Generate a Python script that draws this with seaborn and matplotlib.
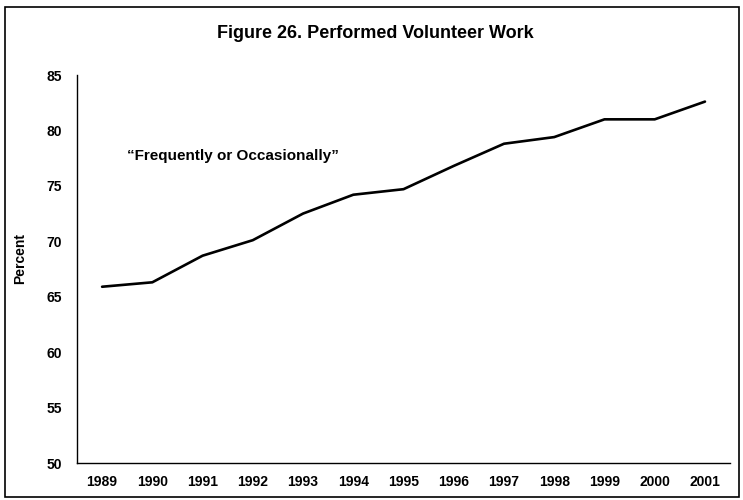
import matplotlib
matplotlib.use('Agg')
import matplotlib.pyplot as plt
from matplotlib.patches import Rectangle
import seaborn as sns
import pandas as pd
import numpy as np

# Data
years = ['1989', '1990', '1991', '1992', '1993', '1994', '1995',
         '1996', '1997', '1998', '1999', '2000', '2001']
percent = [65.9, 66.3, 68.7, 70.1, 72.5, 74.2, 74.7,
           76.8, 78.8, 79.4, 81.0, 81.0, 82.6]
y_ticks = [50, 55, 60, 65, 70, 75, 80, 85]

df = pd.DataFrame({'Year': years, 'Percent': percent})

sns.set_style('white', {'text.color': 'black', 'axes.labelcolor': 'black',
                        'xtick.color': 'black', 'ytick.color': 'black'})
plt.rcParams['font.family'] = ['Liberation Sans', 'DejaVu Sans']
plt.rcParams['font.weight'] = 'bold'

fig = plt.figure(figsize=(7.43, 5), dpi=100)
ax = fig.add_axes([0.1036, 0.074, 0.879, 0.776])

sns.lineplot(data=df, x='Year', y='Percent', color='black', linewidth=1.9, ax=ax)

ax.set_xlim(-0.5, len(years) - 0.5)
ax.set_ylim(50, 85)
ax.set_yticks(y_ticks)
ax.set_yticklabels([str(t) for t in y_ticks], fontsize=10, fontweight='bold')
ax.set_xticks(range(len(years)))
ax.set_xticklabels(years, fontsize=10, fontweight='bold')
ax.set_xticks(np.arange(-0.5, len(years)), minor=True)
ax.tick_params(axis='x', which='major', length=0, pad=9, labelcolor='black')
ax.tick_params(axis='x', which='minor', length=4, width=1, direction='out', color='black')
ax.tick_params(axis='y', length=5, width=1, direction='out', color='black', pad=6,
               labelcolor='black')

for side in ['top', 'right']:
    ax.spines[side].set_visible(False)
for side in ['left', 'bottom']:
    ax.spines[side].set_color('black')
    ax.spines[side].set_linewidth(1.0)

ax.set_xlabel('')
ax.set_ylabel('Percent', fontsize=10, fontweight='bold', color='black')
ax.yaxis.set_label_coords(-0.077, 0.528)

ax.text(0.5, 77.7, '\u201cFrequently or Occasionally\u201d', fontsize=11,
        fontweight='bold', ha='left', va='center', color='black')

fig.text(0.505, 0.932, 'Figure 26. Performed Volunteer Work', fontsize=13,
         fontweight='bold', ha='center', va='center', color='black')

fig.patches.append(Rectangle((0.007, 0.006), 0.988, 0.98, transform=fig.transFigure,
                             fill=False, edgecolor='black', linewidth=1.2))

fig.savefig('out.png', dpi=100)
